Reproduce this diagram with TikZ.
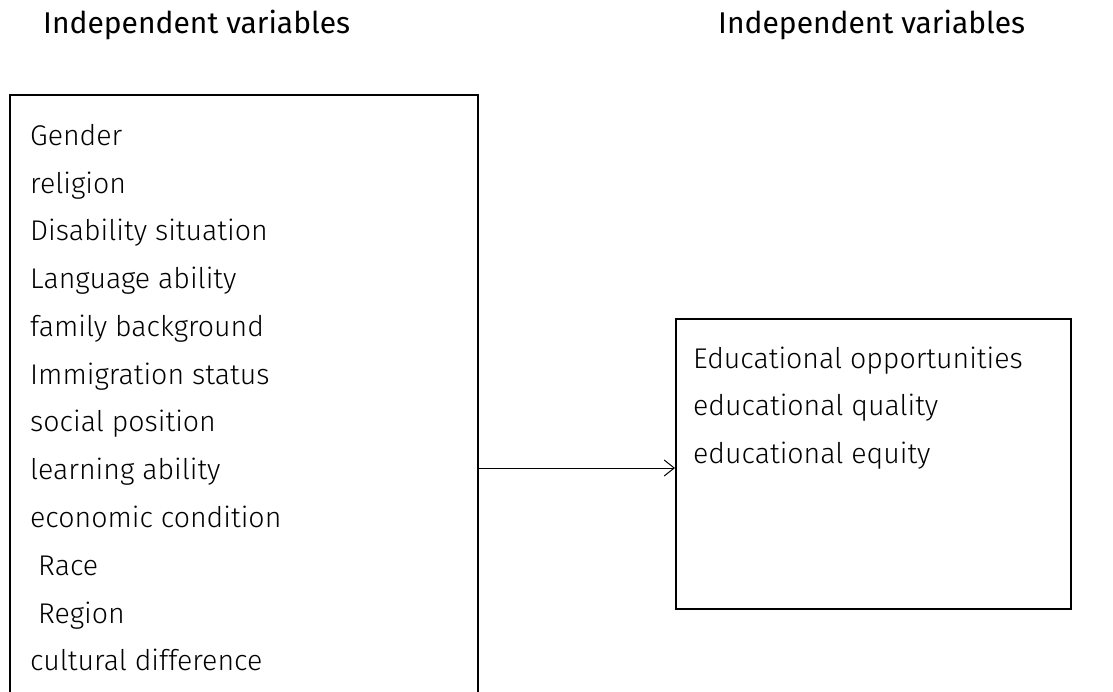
\documentclass[tikz,border=0pt]{standalone}
\usepackage{fontspec}
\setmainfont{Fira Sans Light}
\newfontfamily\titlefont{Fira Sans}
\usetikzlibrary{arrows.meta}
\tikzset{
  box/.style={draw=black, line width=1.6pt, rectangle, inner sep=0pt},
  item/.style={anchor=base west, inner sep=0pt, font=\fontsize{28.5}{32}\selectfont},
  ttl/.style={anchor=base west, inner sep=0pt, font=\titlefont\fontsize{30}{33}\selectfont},
  conn/.style={draw=black, line width=1pt, -{Straight Barb[length=10pt,width=16pt,line width=1pt]}}
}
\begin{document}
\begin{tikzpicture}[x=1pt,y=1pt]
\useasboundingbox (0,0) rectangle (1113,-691);
\node[ttl] (t1) at (43,-33) {Independent variables};
\node[ttl] (t2) at (718,-33) {Independent variables};
\node[box, anchor=north west, minimum width=468pt, minimum height=640pt] (L) at (9,-94) {};
\node[box, anchor=north west, minimum width=395pt, minimum height=290pt] (R) at (675,-318) {};
\node[item] (l1) at (30,-145) {Gender};
\node[item] (l2) at (30,-193) {religion};
\node[item] (l3) at (30,-240) {Disability situation};
\node[item] (l4) at (30,-288) {Language ability};
\node[item] (l5) at (30,-336) {family background};
\node[item] (l6) at (30,-384) {Immigration status};
\node[item] (l7) at (30,-431) {social position};
\node[item] (l8) at (30,-479) {learning ability};
\node[item] (l9) at (30,-527) {economic condition};
\node[item] (l10) at (38,-575) {Race};
\node[item] (l11) at (38,-623) {Region};
\node[item] (l12) at (30,-670) {cultural difference};
\node[item] (r1) at (693,-368) {Educational opportunities};
\node[item] (r2) at (693,-415) {educational quality};
\node[item] (r3) at (693,-463) {educational equity};
\coordinate (a1) at (L.east |- 0,-468);
\draw[conn] (a1) -- (R.west |- a1);
\end{tikzpicture}
\end{document}
